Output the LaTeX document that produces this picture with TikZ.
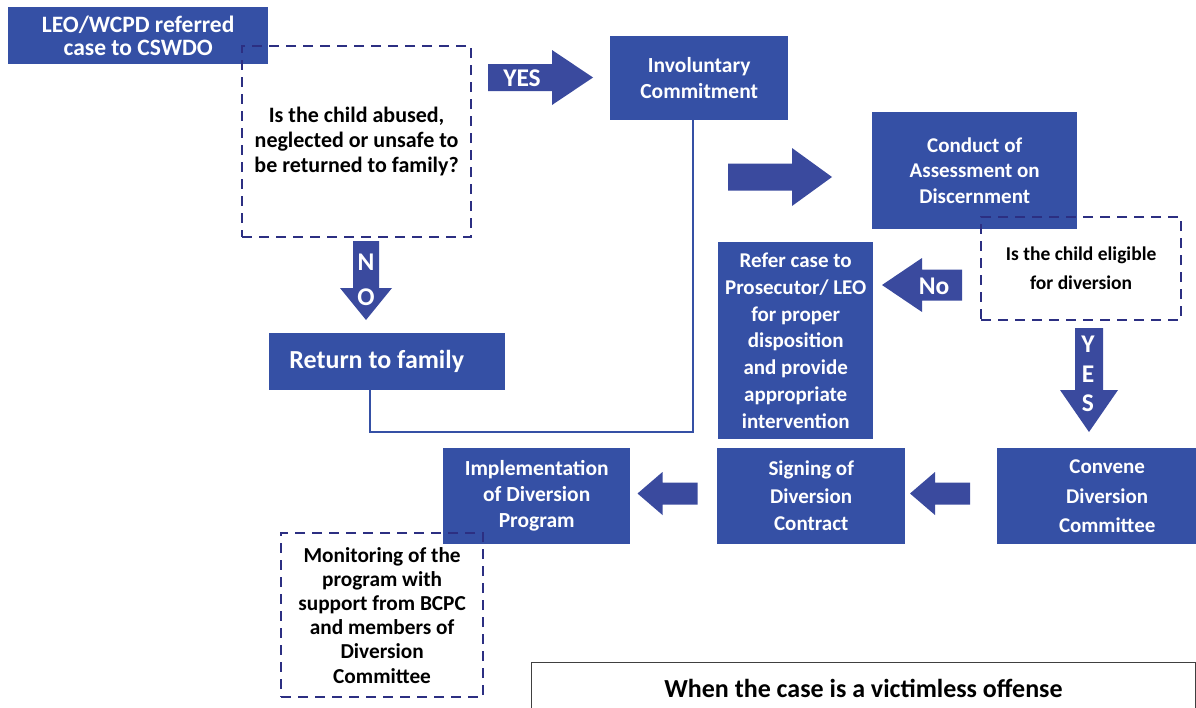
\documentclass[tikz,border=0pt]{standalone}
\usepackage{fontspec}
\setmainfont{Carlito}
\definecolor{boxblue}{HTML}{3550A5}
\definecolor{arrowblue}{HTML}{3A4A9E}
\definecolor{dashnavy}{HTML}{2C2F82}

% block arrow: centre, angle, length, shaft width, head width, head length
\newcommand{\fatarrow}[6]{%
  \fill[arrowblue, shift={#1}, rotate=#2]
    (-#3/2,-#4/2) -- (#3/2-#6,-#4/2) -- (#3/2-#6,-#5/2) -- (#3/2,0)
    -- (#3/2-#6,#5/2) -- (#3/2-#6,#4/2) -- (-#3/2,#4/2) -- cycle;}

\tikzset{
  stepbox/.style={fill=boxblue, text=white, font=\bfseries\fontsize{21.5}{26}\selectfont,
    align=center, inner sep=0pt, anchor=north west},
  askbox/.style={draw=dashnavy, line width=2.2pt, dash pattern=on 10pt off 7pt,
    font=\bfseries\fontsize{22}{25}\selectfont, align=center, inner sep=0pt, anchor=north west},
  link/.style={draw=boxblue, line width=2.5pt},
  arrowtext/.style={text=white, font=\bfseries\fontsize{25.5}{35}\selectfont, align=center, inner sep=0pt},
}

\begin{document}
\begin{tikzpicture}[x=1pt, y=-1pt]
\useasboundingbox (0,0) rectangle (1196,707);

% boxes
\node[stepbox, minimum width=260pt, minimum height=57pt,
  font=\bfseries\fontsize{23.5}{22.5}\selectfont] (leo) at (8,7)
  {LEO/WCPD referred\\case to CSWDO};
\node[askbox, minimum width=229pt, minimum height=191pt] (abused) at (241,45)
  {Is the child abused,\\neglected or unsafe to\\be returned to family?};
\node[stepbox, minimum width=178pt, minimum height=84pt] (invol) at (610,36)
  {Involuntary\\Commitment};
\node[stepbox, minimum width=236pt, minimum height=57pt,
  font=\bfseries\fontsize{26}{28}\selectfont] (ret) at (269,333)
  {\hspace*{-21pt}Return to family};
\node[stepbox, minimum width=205pt, minimum height=117pt, font=\bfseries\fontsize{21}{25.5}\selectfont]
  (conduct) at (872,112) {Conduct of\\Assessment on\\Discernment};
\node[askbox, minimum width=200pt, minimum height=103pt, font=\bfseries\fontsize{19.5}{29}\selectfont]
  (eligible) at (980,216) {Is the child eligible\\for diversion};
\node[stepbox, minimum width=155pt, minimum height=197pt, font=\bfseries\fontsize{21}{26.8}\selectfont]
  (refer) at (718,242)
  {Refer case to\\Prosecutor/ LEO\\for proper\\disposition\\and provide\\appropriate\\intervention};
\node[stepbox, minimum width=220pt, minimum height=96pt, font=\bfseries\fontsize{21}{29.5}\selectfont]
  (convene) at (997,448) {Convene\\Diversion\\Committee};
\node[stepbox, minimum width=188pt, minimum height=96pt, font=\bfseries\fontsize{21}{27.5}\selectfont]
  (signing) at (717,448) {Signing of\\Diversion\\Contract};
\node[stepbox, minimum width=187pt, minimum height=96pt] (impl) at (443,448)
  {Implementation\\of Diversion\\Program};
\node[askbox, minimum width=202pt, minimum height=164pt, font=\bfseries\fontsize{21.3}{24.2}\selectfont]
  (monitor) at (280,532)
  {Monitoring of the\\program with\\support from BCPC\\and members of\\Diversion\\Committee};
\node[draw=black!75, line width=1pt, minimum width=664pt, minimum height=52pt, anchor=north west,
  inner sep=0pt, font=\bfseries\fontsize{26}{28}\selectfont] (victimless) at (531,662)
  {When the case is a victimless offense};

% connector
\coordinate (low) at (0,432);
\draw[link] ([xshift=-6pt]invol.south) -- ([xshift=-6pt]invol.south |- low)
  -| ([xshift=-17pt]ret.south);

% block arrows
\fatarrow{(540.5,77.5)}{0}{105}{27}{55}{41}
\fatarrow{(780,177)}{0}{104}{27}{58}{40}
\fatarrow{(922,285)}{180}{80}{31}{54}{40}
\fatarrow{(366,280.5)}{-90}{79}{26}{52}{32}
\fatarrow{(1089,380)}{-90}{104}{28}{58}{42}
\fatarrow{(940,493.5)}{180}{60}{22}{43}{25}
\fatarrow{(667.5,493.5)}{180}{60}{22}{43}{25}

% arrow labels
\node[arrowtext] (yes1) at (522,78) {YES};
\node[arrowtext] (no1) at (366,280) {N\\O};
\node[arrowtext] (no2) at (934,286) {No};
\node[arrowtext, font=\bfseries\fontsize{25.5}{29.5}\selectfont] (yes2) at (1088,374) {Y\\E\\S};
\end{tikzpicture}
\end{document}
